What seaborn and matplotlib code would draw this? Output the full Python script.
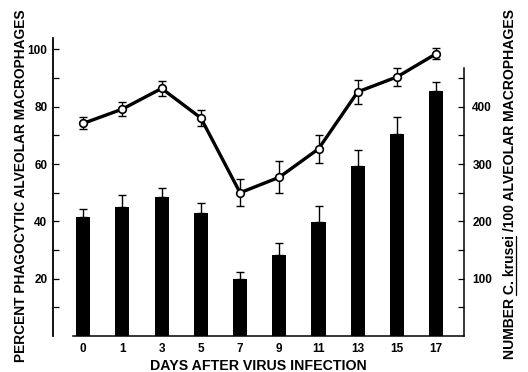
import matplotlib
matplotlib.use("Agg")
import matplotlib.pyplot as plt
from matplotlib.lines import Line2D
import seaborn as sns
import numpy as np
import pandas as pd

# ---- data ----
days = ['0', '1', '3', '5', '7', '9', '11', '13', '15', '17']
pct_phago = [74.2, 79.2, 86.4, 76.1, 50.0, 55.4, 65.3, 85.2, 90.4, 98.5]
pct_err = [2.1, 2.4, 2.7, 2.7, 4.7, 5.6, 4.8, 4.3, 3.0, 2.0]
krusei = [208, 225, 243, 215, 100, 142, 199, 296, 352, 427]
krusei_err = [13, 21, 16, 17, 11, 21, 27, 28, 30, 17]
left_ticks = [10, 20, 30, 40, 50, 60, 70, 80, 90, 100]
left_labels = ['', '20', '', '40', '', '60', '', '80', '', '100']
right_ticks = [50, 100, 150, 200, 250, 300, 350, 400, 450]
right_labels = ['', '100', '', '200', '', '300', '', '400', '']

sns.set_theme(style='white')
plt.rcParams['font.family'] = ['Liberation Sans', 'DejaVu Sans']
plt.rcParams['font.weight'] = 'bold'

df = pd.DataFrame({'day': days, 'pct': pct_phago, 'krusei': krusei})
n = len(days)
pos = np.arange(n)

fig = plt.figure(figsize=(5.28, 3.72), dpi=100)
ax = fig.add_axes([53 / 528, 36 / 372, 411 / 528, 298 / 372])
ax2 = ax.twinx()

sns.barplot(data=df, x='day', y='krusei', order=days, color='black',
            saturation=1, width=0.36, errorbar=None, ax=ax2, linewidth=0)
ax2.errorbar(pos, krusei, yerr=[np.zeros(n), krusei_err], fmt='none',
             ecolor='black', elinewidth=1, capsize=3, capthick=1)

ax.errorbar(pos, pct_phago, yerr=pct_err, fmt='none', ecolor='black',
            elinewidth=1, capsize=3, capthick=1, zorder=1)
sns.lineplot(x=pos, y=pct_phago, ax=ax, color='black', lw=2.4, marker='o',
             markersize=5.5, markerfacecolor='white', markeredgecolor='black',
             markeredgewidth=1.2, zorder=3)

ax.set_zorder(ax2.get_zorder() + 1)
ax.patch.set_visible(False)

ax.set_xlim(-0.77, 9.71)
ax.set_ylim(0, 104)
ax2.set_ylim(0, 520)

ax.set_xticks(pos)
ax.set_xticklabels(days)
ax.set_yticks(left_ticks)
ax.set_yticklabels(left_labels)
ax2.set_yticks(right_ticks)
ax2.set_yticklabels(right_labels)

ax.tick_params(axis='y', direction='in', length=4, width=0.9, pad=4,
               labelsize=8.5, colors='black')
ax.tick_params(axis='x', length=0, pad=5, labelsize=8.5, colors='black')
ax2.tick_params(axis='y', direction='in', length=4, width=0.9, pad=6,
                labelsize=8.5, colors='black')

for s in ['top', 'right']:
    ax.spines[s].set_visible(False)
for s in ['top', 'left', 'bottom']:
    ax2.spines[s].set_visible(False)
ax.spines['left'].set_visible(True)
ax.spines['left'].set_linestyle((0, (1, 1)))
ax.spines['left'].set_linewidth(1.3)
ax.spines['left'].set_color('black')
ax.spines['left'].set_zorder(5)
ax.spines['bottom'].set_bounds(-0.27, 9.71)
ax.spines['bottom'].set_color('black')
ax.spines['bottom'].set_linewidth(1.1)
ax2.spines['right'].set_bounds(0, 468)
ax2.spines['right'].set_color('black')
ax2.spines['right'].set_linewidth(1.1)

lab_size = 9.9
ax.set_xlabel('DAYS AFTER VIRUS INFECTION', fontsize=10.2,
              fontweight='bold', labelpad=3, color='black')
ax.set_ylabel('PERCENT PHAGOCYTIC ALVEOLAR MACROPHAGES', fontsize=lab_size,
              fontweight='bold', color='black')
ax.yaxis.set_label_coords(-0.062, 0.505)

pre, mid = 'NUMBER', 'C. krusei'
right_label = pre + ' ' + mid + ' /100 ALVEOLAR MACROPHAGES'
ax2.set_ylabel(right_label, fontsize=10.1, fontweight='bold', color='black')
ax2.yaxis.set_label_coords(1.095, 0.51)

# underline "C. krusei" in the right-hand label
fig.canvas.draw()
renderer = fig.canvas.get_renderer()


def text_width(s):
    t = fig.text(0, 0, s, fontsize=10.1, fontweight='bold')
    w = t.get_window_extent(renderer).width
    t.remove()
    return w


space_w = text_width('A A') - text_width('AA')
w_pre = text_width(pre) + space_w
w_mid = text_width(mid)
bb = ax2.yaxis.label.get_window_extent(renderer)
y_start = bb.y0 + w_pre
y_end = y_start + w_mid
x_ul = bb.x1 - 1.0
fig.add_artist(Line2D([x_ul / 528, x_ul / 528], [y_start / 372, y_end / 372],
                      transform=fig.transFigure, color='black', lw=0.9))

fig.savefig('out.png', dpi=100)
